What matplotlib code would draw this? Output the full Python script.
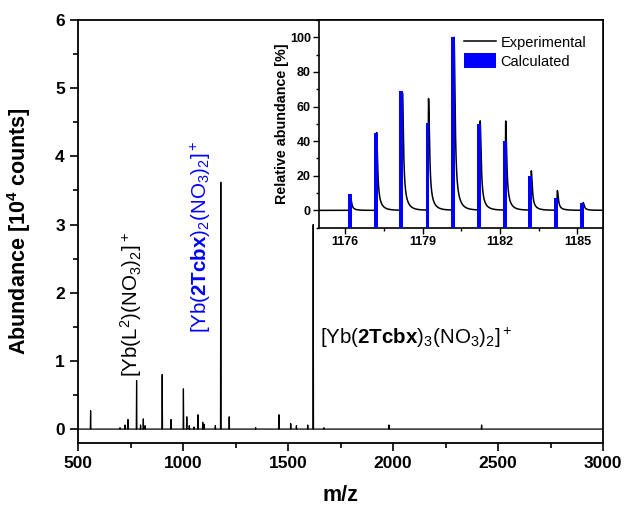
import numpy as np
import matplotlib.pyplot as plt
from matplotlib.ticker import MultipleLocator

plt.rcParams['font.family'] = 'Liberation Sans'
plt.rcParams['mathtext.fontset'] = 'custom'
plt.rcParams['mathtext.rm'] = 'Liberation Sans'
plt.rcParams['mathtext.bf'] = 'Liberation Sans:bold'
plt.rcParams['mathtext.default'] = 'regular'

# full ESI spectrum: peak positions (m/z) and abundance (10^4 counts)
peak_mz = [560, 700, 724, 738, 779, 798, 811, 820, 901, 943, 1002, 1018,
           1030, 1052, 1071, 1094, 1100, 1154, 1180, 1220, 1346, 1457, 1513,
           1540, 1594, 1620, 1671, 1981, 2422]
peak_abund = [0.27, 0.02, 0.06, 0.14, 0.71, 0.06, 0.15, 0.05, 0.80, 0.14,
              0.59, 0.18, 0.05, 0.03, 0.21, 0.10, 0.07, 0.05, 3.62, 0.18,
              0.02, 0.21, 0.08, 0.05, 0.06, 3.00, 0.02, 0.06, 0.06]
mz_range = [500, 3000]

# isotope pattern of [Yb(2Tcbx)2(NO3)2]+
iso_mz = [1176.18, 1177.18, 1178.18, 1179.19, 1180.18,
          1181.19, 1182.18, 1183.17, 1184.18, 1185.18]
calc_rel = [9.6, 44.8, 68.7, 50.6, 100.0, 49.8, 40.2, 20.0, 7.1, 4.2]
exp_rel = [6.5, 45.0, 68.0, 64.5, 100.0, 51.5, 51.5, 22.7, 11.3, 4.5]
exp_shift = 0.04


def stick_trace(centers, heights, lo, hi, half=1.5):
    xs, ys = [lo], [0.0]
    for c, h in sorted(zip(centers, heights)):
        xs += [c - half, c, c + half]
        ys += [0.0, h, 0.0]
    xs.append(hi)
    ys.append(0.0)
    return xs, ys


def profile(x, centers, heights, rise=0.012, tail=0.045):
    y = np.zeros_like(x)
    for c, h in zip(centers, heights):
        d = x - c
        left = np.exp(-0.5 * (d / rise) ** 2)
        right = 0.85 / (1 + (d / tail) ** 2) + 0.15 * np.exp(-np.abs(d) / 0.15)
        y += h * np.where(d < 0, left, right)
    return y


fig = plt.figure(figsize=(6.25, 5.08), dpi=100)
ax = fig.add_axes([0.1248, 0.1285, 0.84, 0.8321])

xs, ys = stick_trace(peak_mz, peak_abund, *mz_range)
ax.plot(xs, ys, color='black', lw=0.9)

ax.set_xlim(*mz_range)
ax.set_ylim(-0.2, 6)
ax.xaxis.set_major_locator(MultipleLocator(500))
ax.xaxis.set_minor_locator(MultipleLocator(250))
ax.yaxis.set_major_locator(MultipleLocator(1))
ax.yaxis.set_minor_locator(MultipleLocator(0.5))
ax.tick_params(which='both', direction='out', width=1.2, top=False, right=False)
ax.tick_params(which='major', length=6, labelsize=12.5)
ax.tick_params(which='minor', length=3.5)
for lab in ax.get_xticklabels() + ax.get_yticklabels():
    lab.set_fontweight('bold')
for sp in ax.spines.values():
    sp.set_linewidth(1.3)

ax.set_xlabel('m/z', fontsize=15.5, fontweight='bold', labelpad=10)
ax.set_ylabel(r'Abundance [10$^{\mathbf{4}}$ counts]', fontsize=15.5,
              fontweight='bold', labelpad=16)

ax.text(752, 0.77, r'[Yb(L$^2$)(NO$_3$)$_2$]$^+$', rotation=90,
        ha='center', va='bottom', fontsize=14.8)
ax.text(1086, 1.41, r'[Yb($\mathbf{2Tcbx}$)$_2$(NO$_3$)$_2$]$^+$',
        rotation=90, ha='center', va='bottom', fontsize=14.8, color='#0000ff')
ax.text(1652, 1.34, r'[Yb($\mathbf{2Tcbx}$)$_3$(NO$_3$)$_2$]$^+$',
        ha='left', va='center', fontsize=14.8)

# inset: isotope pattern
ins = fig.add_axes([0.5109, 0.5518, 0.4544, 0.4088])
ins.set_xlim(1175, 1186)
ins.set_ylim(-10, 110)
grid = np.linspace(1175, 1186, 4000)
exp_centers = [m + exp_shift for m in iso_mz]
ins.plot(grid, profile(grid, exp_centers, exp_rel), color='black', lw=1.1,
         label='Experimental', zorder=2)
ins.bar(iso_mz, [h + 10 for h in calc_rel], bottom=-10, width=0.15,
        color='#0000ff', label='Calculated', zorder=3)

ins.xaxis.set_major_locator(MultipleLocator(3))
ins.xaxis.set_minor_locator(MultipleLocator(1.5))
ins.yaxis.set_major_locator(MultipleLocator(20))
ins.yaxis.set_minor_locator(MultipleLocator(10))
ins.tick_params(which='both', direction='out', width=1.0, top=False, right=False)
ins.tick_params(which='major', length=4, labelsize=9, pad=2)
ins.tick_params(which='minor', length=2.5)
for lab in ins.get_xticklabels() + ins.get_yticklabels():
    lab.set_fontweight('bold')
for sp in ins.spines.values():
    sp.set_linewidth(1.2)
ins.set_ylabel('Relative abundance [%]', fontsize=10.3, fontweight='bold',
               labelpad=1)
ins.legend(loc='upper right', frameon=False, fontsize=10.5, handlelength=2.2,
           handleheight=1.2, handletextpad=0.3, labelspacing=0.25,
           borderaxespad=0.3, bbox_to_anchor=(0.975, 0.98))

fig.savefig('out.png', dpi=100)
